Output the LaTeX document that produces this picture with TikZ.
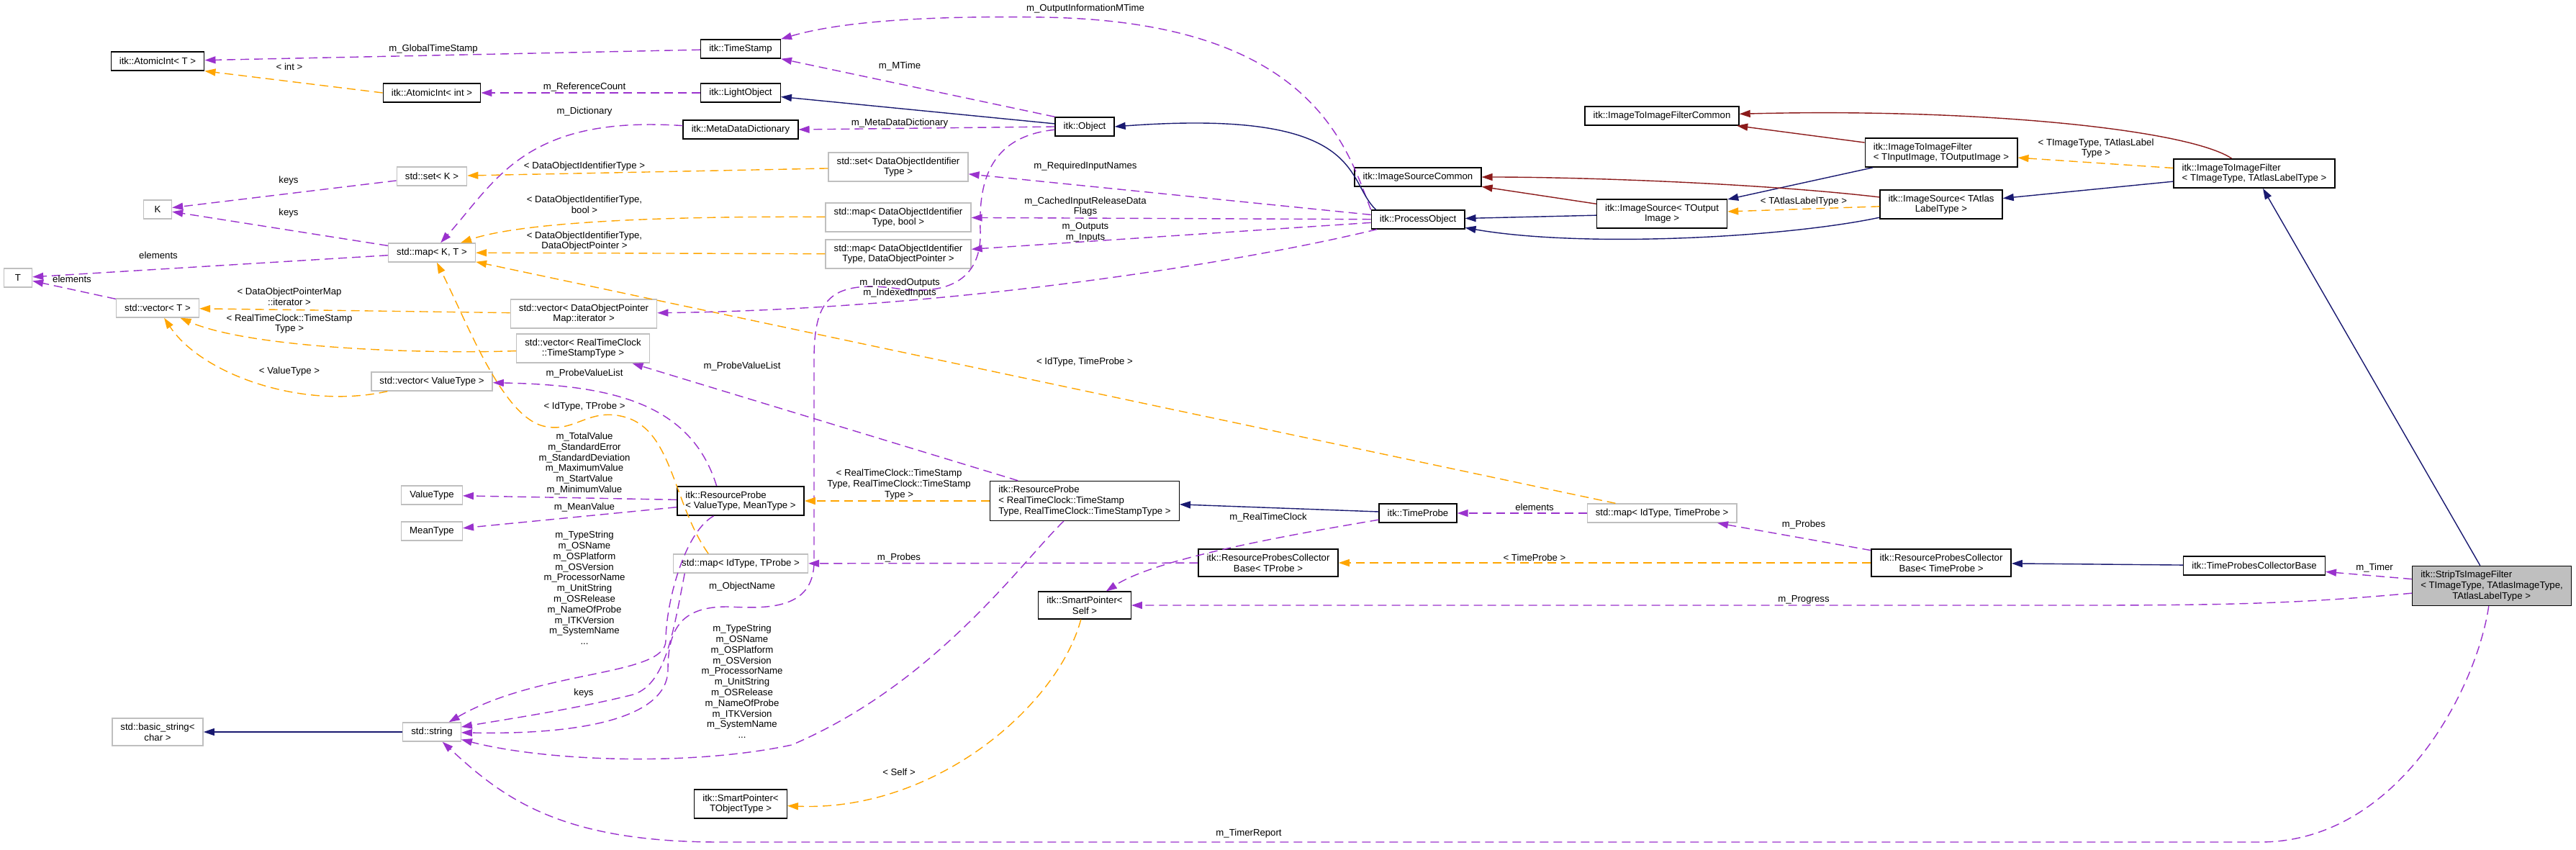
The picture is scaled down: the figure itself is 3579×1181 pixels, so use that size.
\documentclass[tikz,border=0pt]{standalone}
\usepackage{fontspec}
\setmainfont{Liberation Sans}
\usetikzlibrary{arrows.meta}
\definecolor{myorchid}{RGB}{154,50,205}
\definecolor{myorange}{RGB}{255,165,0}
\definecolor{mynavy}{RGB}{25,25,112}
\definecolor{myfire}{RGB}{139,26,26}
\definecolor{mygrey}{RGB}{191,191,191}
\tikzset{
  doc/.style={draw=black,line width=0.7pt,fill=white,align=center,inner xsep=5.8pt,inner ysep=3.3pt,minimum height=13pt,minimum width=19.5pt,font=\fontsize{6.6}{7.4}\selectfont},
  undoc/.style={doc,draw=mygrey},
  current/.style={doc,fill=mygrey},
  lbl/.style={align=center,inner sep=0pt,font=\fontsize{6.6}{7.4}\selectfont},
  member/.style={draw=myorchid,line width=0.7pt,dash pattern=on 6pt off 3.5pt,-{Triangle[length=7.5pt,width=5pt]}},
  tmpl/.style={member,draw=myorange},
  pubinh/.style={draw=mynavy,line width=0.7pt,-{Triangle[length=7.5pt,width=5pt]}},
  privinh/.style={pubinh,draw=myfire}
}
\begin{document}
\begin{tikzpicture}[x=0.5pt,y=-0.5pt]
\useasboundingbox (0,0) rectangle (3579,1181);

\node[doc] (AtomicIntT) at (219,85) {itk::AtomicInt< T >};
\node[doc] (AtomicIntInt) at (600,129) {itk::AtomicInt< int >};
\node[doc] (TimeStamp) at (1029,68) {itk::TimeStamp};
\node[doc] (LightObject) at (1029,129) {itk::LightObject};
\node[doc] (MetaDataDict) at (1029,180) {itk::MetaDataDictionary};
\node[doc] (Object) at (1507,176) {itk::Object};
\node[undoc] (setK) at (600,245) {std::set< K >};
\node[undoc] (K) at (219,291) {K};
\node[undoc] (mapKT) at (600,351) {std::map< K, T >};
\node[undoc] (T) at (25,386) {T};
\node[undoc] (vectorT) at (219,428) {std::vector< T >};
\node[undoc] (setDOIT) at (1248,232) {std::set< DataObjectIdentifier\\Type >};
\node[undoc] (mapDOITbool) at (1248,302) {std::map< DataObjectIdentifier\\Type, bool >};
\node[undoc] (mapDOITDOP) at (1248,353) {std::map< DataObjectIdentifier\\Type, DataObjectPointer >};
\node[doc] (ProcessObject) at (1970,305) {itk::ProcessObject};
\node[doc] (ImgSrcCommon) at (1970,246) {itk::ImageSourceCommon};
\node[doc] (I2IFCommon) at (2309,161) {itk::ImageToImageFilterCommon};
\node[doc] (ImgSrcTOut) at (2309,297) {itk::ImageSource< TOutput\\Image >};
\node[doc,align=left] (I2IFTIn) at (2697,212) {itk::ImageToImageFilter\\< TInputImage, TOutputImage >};
\node[doc] (ImgSrcTAtlas) at (2697,284) {itk::ImageSource< TAtlas\\LabelType >};
\node[doc,align=left] (I2IFTImage) at (3132,241) {itk::ImageToImageFilter\\< TImageType, TAtlasLabelType >};
\node[undoc] (vecDOPM) at (811,436) {std::vector< DataObjectPointer\\Map::iterator >};
\node[undoc] (vecRTC) at (810,484) {std::vector< RealTimeClock\\::TimeStampType >};
\node[undoc] (vecValueType) at (600,530) {std::vector< ValueType >};
\node[undoc] (ValueType) at (600,688) {ValueType};
\node[undoc] (MeanType) at (600,738) {MeanType};
\node[doc,align=left] (ResProbeVM) at (1029,696) {itk::ResourceProbe\\< ValueType, MeanType >};
\node[doc,align=left] (ResProbeRTC) at (1507,696) {itk::ResourceProbe\\< RealTimeClock::TimeStamp\\Type, RealTimeClock::TimeStampType >};
\node[undoc] (mapIdTProbe) at (1029,783) {std::map< IdType, TProbe >};
\node[doc] (RPCBTProbe) at (1762,782) {itk::ResourceProbesCollector\\Base< TProbe >};
\node[doc] (SmartPtrSelf) at (1507,841) {itk::SmartPointer<\\Self >};
\node[doc] (TimeProbe) at (1970,713) {itk::TimeProbe};
\node[undoc] (mapIdTimeProbe) at (2309,713) {std::map< IdType, TimeProbe >};
\node[doc] (RPCBTimeProbe) at (2697,782) {itk::ResourceProbesCollector\\Base< TimeProbe >};
\node[doc] (TPCB) at (3132,786) {itk::TimeProbesCollectorBase};
\node[current,align=left] (StripTs) at (3462,814) {itk::StripTsImageFilter\\< TImageType, TAtlasImageType,\\\hspace*{22pt}TAtlasLabelType >};
\node[undoc] (basicString) at (219,1017) {std::basic\_string<\\char >};
\node[undoc] (stdString) at (600,1017) {std::string};
\node[doc] (SmartPtrTObj) at (1029,1117) {itk::SmartPointer<\\TObjectType >};

\draw[member] (TimeStamp) -- (AtomicIntT);
\draw[tmpl] (AtomicIntInt.west) -- (AtomicIntT.south east);
\draw[member] (LightObject) -- (AtomicIntInt);
\draw[member] (Object.north west) -- (TimeStamp.south east);
\draw[member] (ProcessObject.north west) .. controls (1870,200) and (1820,30) .. (1450,24) .. controls (1250,21) and (1150,35) .. (TimeStamp.north east);
\draw[pubinh] (Object) -- (LightObject);
\draw[pubinh] ([xshift=3.5pt]ProcessObject.north west) .. controls (1868,250) and (1900,150) .. (Object.east);
\draw[member] (Object.west) -- (MetaDataDict.east);
\draw[member] (MetaDataDict) .. controls (730,160) and (690,250) .. (mapKT);
\draw[tmpl] (setDOIT) -- (setK);
\draw[member] (setK) -- (K);
\draw[member] (mapKT) -- (K);
\draw[member] (mapKT) -- (T);
\draw[member] (vectorT) -- (T);
\draw[tmpl] (mapDOITbool) .. controls (900,300) and (720,310) .. (mapKT);
\draw[tmpl] (mapDOITDOP) -- (mapKT);
\draw[tmpl] (mapIdTimeProbe) -- (mapKT);
\draw[tmpl] (mapIdTProbe.163) .. controls (935,700) and (935,600) .. (870,580) .. controls (820,565) and (800,600) .. (760,593) .. controls (700,585) and (650,450) .. (mapKT);
\draw[tmpl] (vecDOPM) -- (vectorT);
\draw[tmpl] (vecRTC) .. controls (600,492) and (350,485) .. (vectorT);
\draw[tmpl] (vecValueType) .. controls (420,570) and (280,520) .. (vectorT);
\draw[member] (ProcessObject) .. controls (1700,370) and (1300,430) .. (vecDOPM);
\draw[member] (ProcessObject) -- (setDOIT);
\draw[member] (ProcessObject) -- (mapDOITbool);
\draw[member] (ProcessObject) -- (mapDOITDOP);
\draw[member] (Object) .. controls (1370,190) and (1360,260) .. (1362,320) .. controls (1365,400) and (1300,410) .. (1240,400) .. controls (1150,390) and (1131,420) .. (1131,500) -- (1131,780) .. controls (1131,850) and (1060,845) .. (1010,843) .. controls (950,843) and (928,870) .. (928,930) .. controls (928,1000) and (800,1021) .. (stdString);
\draw[member] (ResProbeVM) -- (ValueType);
\draw[member] (ResProbeVM) -- (MeanType);
\draw[member] (ResProbeVM) .. controls (950,740) and (925,840) .. (925,890) .. controls (925,940) and (750,930) .. (stdString);
\draw[member] (ResProbeVM.148) .. controls (960,560) and (850,535) .. (vecValueType);
\draw[tmpl] (ResProbeRTC) -- (ResProbeVM);
\draw[member] (ResProbeRTC) -- (vecRTC);
\draw[member] (ResProbeRTC) .. controls (1420,780) and (1300,950) .. (1100,1035) .. controls (960,1065) and (760,1058) .. (stdString);
\draw[member] (mapIdTProbe.190) .. controls (935,880) and (925,950) .. (880,965) .. controls (800,985) and (700,1000) .. (stdString);
\draw[pubinh] (TimeProbe) -- (ResProbeRTC);
\draw[member] (TimeProbe) .. controls (1750,750) and (1600,780) .. (SmartPtrSelf);
\draw[member] (mapIdTimeProbe) -- (TimeProbe);
\draw[member] (RPCBTProbe) -- (mapIdTProbe);
\draw[member] (RPCBTimeProbe) -- (mapIdTimeProbe);
\draw[tmpl] (RPCBTimeProbe) -- (RPCBTProbe);
\draw[pubinh] (TPCB) -- (RPCBTimeProbe);
\draw[member] (StripTs) -- (TPCB);
\draw[member] (StripTs) .. controls (3200,838) and (3100,841) .. (2900,841) -- (SmartPtrSelf);
\draw[member] (StripTs) .. controls (3440,960) and (3330,1170) .. (3140,1170) -- (1000,1170) .. controls (780,1170) and (700,1110) .. (stdString);
\draw[pubinh] (StripTs) -- (I2IFTImage);
\draw[privinh] (I2IFTImage) .. controls (3040,180) and (2750,150) .. (I2IFCommon);
\draw[tmpl] (I2IFTImage) -- (I2IFTIn);
\draw[pubinh] (I2IFTImage) -- (ImgSrcTAtlas);
\draw[privinh] (I2IFTIn) -- (I2IFCommon);
\draw[pubinh] (I2IFTIn) -- (ImgSrcTOut);
\draw[privinh] (ImgSrcTOut) -- (ImgSrcCommon);
\draw[privinh] (ImgSrcTAtlas) .. controls (2450,255) and (2200,246) .. (ImgSrcCommon);
\draw[tmpl] (ImgSrcTAtlas) -- (ImgSrcTOut);
\draw[pubinh] (ImgSrcTOut) -- (ProcessObject);
\draw[pubinh] (ImgSrcTAtlas) .. controls (2480,330) and (2200,345) .. (ProcessObject);
\draw[tmpl] (SmartPtrSelf) .. controls (1470,980) and (1300,1128) .. (SmartPtrTObj);
\draw[pubinh] (stdString) -- (basicString);

\node[lbl] (lOutInfo) at (1508,12) {m\_OutputInformationMTime};
\node[lbl] (lGlobalTS) at (602,68) {m\_GlobalTimeStamp};
\node[lbl] (lInt) at (402,93) {< int >};
\node[lbl] (lMTime) at (1250,92) {m\_MTime};
\node[lbl] (lRefCount) at (812,121) {m\_ReferenceCount};
\node[lbl] (lDict) at (812,155) {m\_Dictionary};
\node[lbl] (lMDDict) at (1250,171) {m\_MetaDataDictionary};
\node[lbl] (lDOIT) at (812,231) {< DataObjectIdentifierType >};
\node[lbl] (lReqIn) at (1508,231) {m\_RequiredInputNames};
\node[lbl] (lKeysSet) at (401,251) {keys};
\node[lbl] (lDOITbool) at (812,284) {< DataObjectIdentifierType,\\bool >};
\node[lbl] (lCached) at (1508,287) {m\_CachedInputReleaseData\\Flags};
\node[lbl] (lKeysMap) at (401,296) {keys};
\node[lbl] (lInOut) at (1508,323) {m\_Outputs\\m\_Inputs};
\node[lbl] (lDOITDOP) at (812,335) {< DataObjectIdentifierType,\\DataObjectPointer >};
\node[lbl] (lElemMap) at (220,355) {elements};
\node[lbl] (lElemVec) at (100,388) {elements};
\node[lbl] (lIndexed) at (1250,400) {m\_IndexedOutputs\\m\_IndexedInputs};
\node[lbl] (lDOPM) at (402,412) {< DataObjectPointerMap\\::iterator >};
\node[lbl] (lRTCType) at (402,450) {< RealTimeClock::TimeStamp\\Type >};
\node[lbl] (lTAtlasLT) at (2506,280) {< TAtlasLabelType >};
\node[lbl] (lTImgTAtlas) at (2912,206) {< TImageType, TAtlasLabel\\Type >};
\node[lbl] (lIdTimeProbe) at (1507,503) {< IdType, TimeProbe >};
\node[lbl] (lPVLrtc) at (1031,509) {m\_ProbeValueList};
\node[lbl] (lValueType) at (402,516) {< ValueType >};
\node[lbl] (lPVLvm) at (812,519) {m\_ProbeValueList};
\node[lbl] (lIdTProbe) at (812,565) {< IdType, TProbe >};
\node[lbl] (lValues) at (812,644) {m\_TotalValue\\m\_StandardError\\m\_StandardDeviation\\m\_MaximumValue\\m\_StartValue\\m\_MinimumValue};
\node[lbl] (lRTCargs) at (1249,673) {< RealTimeClock::TimeStamp\\Type, RealTimeClock::TimeStamp\\Type >};
\node[lbl] (lMean) at (812,705) {m\_MeanValue};
\node[lbl] (lElemTP) at (2132,705) {elements};
\node[lbl] (lRTClock) at (1762,719) {m\_RealTimeClock};
\node[lbl] (lProbesTP) at (2506,729) {m\_Probes};
\node[lbl] (lProbes) at (1249,775) {m\_Probes};
\node[lbl] (lTimeProbe) at (2132,775) {< TimeProbe >};
\node[lbl] (lTimer) at (3299,789) {m\_Timer};
\node[lbl] (lObjName) at (1031,815) {m\_ObjectName};
\node[lbl] (lProgress) at (2506,833) {m\_Progress};
\node[lbl] (lStrVM) at (812,817) {m\_TypeString\\m\_OSName\\m\_OSPlatform\\m\_OSVersion\\m\_ProcessorName\\m\_UnitString\\m\_OSRelease\\m\_NameOfProbe\\m\_ITKVersion\\m\_SystemName\\...};
\node[lbl] (lStrRTC) at (1031,947) {m\_TypeString\\m\_OSName\\m\_OSPlatform\\m\_OSVersion\\m\_ProcessorName\\m\_UnitString\\m\_OSRelease\\m\_NameOfProbe\\m\_ITKVersion\\m\_SystemName\\...};
\node[lbl] (lKeysStr) at (811,963) {keys};
\node[lbl] (lSelf) at (1249,1073) {< Self >};
\node[lbl] (lTimerRep) at (1735,1158) {m\_TimerReport};
\end{tikzpicture}
\end{document}
